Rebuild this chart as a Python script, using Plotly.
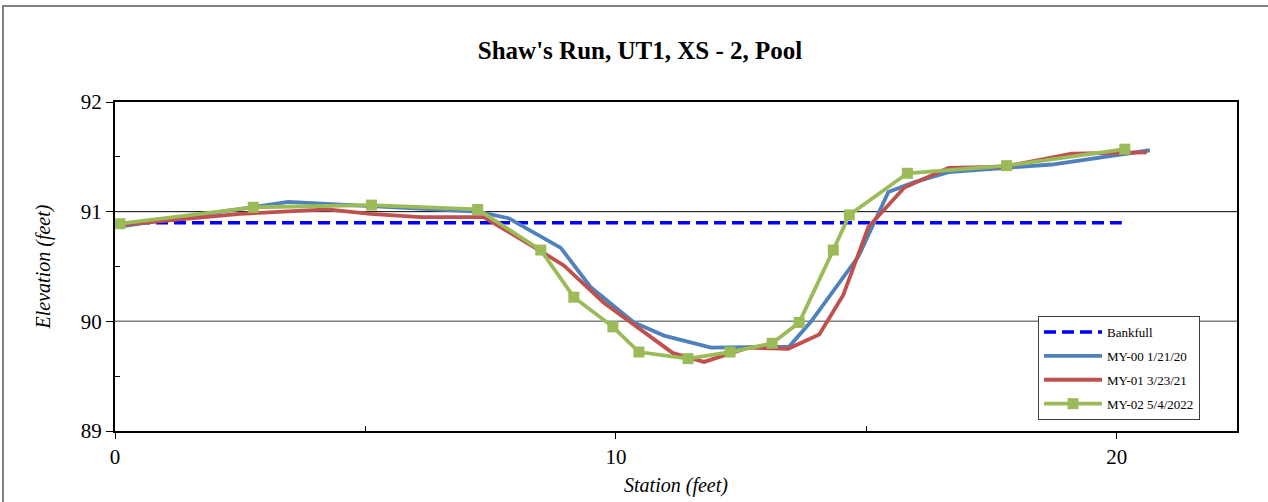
import plotly.graph_objects as go

# Data
bank_x = [0.1, 20.1]
bank_y = [90.9, 90.9]

my00_x = [0.2, 3.46, 5.1, 7.24, 7.86, 8.9, 9.5, 10.36, 10.96, 11.9, 13.46, 13.9, 14.84, 15.44, 15.96, 16.64, 17.8, 18.7, 20.66]
my00_y = [90.87, 91.09, 91.05, 91.0, 90.94, 90.67, 90.31, 89.99, 89.87, 89.76, 89.77, 90.0, 90.59, 91.18, 91.27, 91.36, 91.40, 91.43, 91.56]

my01_x = [0.1, 2.5, 4.24, 5.1, 6.1, 7.36, 8.5, 8.96, 9.76, 10.44, 11.14, 11.76, 12.64, 13.44, 14.06, 14.54, 15.04, 15.76, 16.64, 17.76, 19.1, 20.6]
my01_y = [90.88, 90.98, 91.02, 90.98, 90.95, 90.95, 90.64, 90.51, 90.17, 89.94, 89.71, 89.63, 89.76, 89.75, 89.88, 90.24, 90.86, 91.22, 91.40, 91.41, 91.53, 91.54]

my02_x = [0.1, 2.76, 5.12, 7.24, 8.5, 9.16, 9.94, 10.46, 11.44, 12.28, 13.12, 13.66, 14.34, 14.66, 15.82, 17.8, 20.16]
my02_y = [90.89, 91.04, 91.06, 91.02, 90.65, 90.22, 89.95, 89.72, 89.66, 89.72, 89.80, 89.99, 90.65, 90.97, 91.35, 91.42, 91.57]

names = ["Bankfull", "MY-00 1/21/20", "MY-01 3/23/21", "MY-02 5/4/2022"]
title_text = "Shaw's Run, UT1, XS - 2, Pool"

FONT = "Liberation Serif, Times New Roman, serif"

fig = go.Figure()
fig.add_trace(go.Scatter(x=bank_x, y=bank_y, mode="lines", name=names[0],
                         line=dict(color="#0000FF", width=3.5, dash="12px,6px"),
                         legendgroup="a"))
fig.add_trace(go.Scatter(x=my00_x, y=my00_y, mode="lines", name=names[1],
                         line=dict(color="#4F81BD", width=3.8), legendgroup="b"))
fig.add_trace(go.Scatter(x=my01_x, y=my01_y, mode="lines", name=names[2],
                         line=dict(color="#C0504D", width=3.8), legendgroup="c"))
fig.add_trace(go.Scatter(x=my02_x, y=my02_y, mode="lines+markers", name=names[3],
                         line=dict(color="#9BBB59", width=3.8),
                         marker=dict(symbol="square", size=11, color="#9BBB59"),
                         legendgroup="d"))

L, R, T, B = 115, 31, 102, 71
pw = 1268 - L - R
ph = 502 - T - B

fig.update_layout(
    width=1268, height=502,
    margin=dict(l=L, r=R, t=T, b=B, autoexpand=False),
    paper_bgcolor="white", plot_bgcolor="white",
    font=dict(family=FONT, color="black", size=20),
    title=dict(text="<b>" + title_text + "</b>", x=640 / 1268, xanchor="center",
               y=1 - 50 / 502, yanchor="middle", font=dict(size=25, family=FONT)),
    showlegend=True,
    legend=dict(x=(1038 - L) / pw, y=(431 - 316) / ph,
                xanchor="left", yanchor="top",
                bgcolor="white", bordercolor="#404040", borderwidth=1,
                font=dict(size=13, family=FONT), itemwidth=58,
                tracegroupgap=4),
    xaxis=dict(range=[0, 22.4], tickvals=[0, 10, 20], ticks="outside", ticklen=6,
               tickwidth=1, tickcolor="black", automargin=False,
               showgrid=False, zeroline=False,
               showline=True, linecolor="black", linewidth=2, mirror=True,
               tickfont=dict(size=21, family=FONT),
               minor=dict(tickvals=[5, 15], ticks="inside", ticklen=5, tickcolor="black"),
               title=dict(text="<i>Station (feet)</i>", font=dict(size=20, family=FONT), standoff=10)),
    yaxis=dict(range=[89, 92], tickvals=[89, 90, 91, 92], ticks="outside", ticklen=7,
               tickwidth=1, tickcolor="black", automargin=False,
               showgrid=False, zeroline=False,
               showline=True, linecolor="black", linewidth=2, mirror=True,
               tickfont=dict(size=21, family=FONT),
               minor=dict(tickvals=[89.5, 90.5, 91.5], ticks="inside", ticklen=5, tickcolor="black"),
               title=dict(text="<i>Elevation (feet)</i>", font=dict(size=20, family=FONT), standoff=25)),
)

# gridlines
fig.add_shape(type="line", xref="paper", yref="y", x0=0, x1=1, y0=91, y1=91,
              line=dict(color="black", width=1), layer="below")
fig.add_shape(type="line", xref="paper", yref="y", x0=0, x1=1, y0=90, y1=90,
              line=dict(color="#7f7f7f", width=1.5), layer="below")

# outer chart border
fig.add_shape(type="rect", xref="paper", yref="paper",
              x0=(3 - L) / pw, x1=(1275 - L) / pw,
              y0=(431 - 520) / ph, y1=(431 - 6) / ph,
              line=dict(color="#808080", width=2), fillcolor="rgba(0,0,0,0)", layer="below")

fig.write_html("out.html", config={"displayModeBar": False},
               post_script="document.body.style.margin='0';document.body.style.padding='0';")
